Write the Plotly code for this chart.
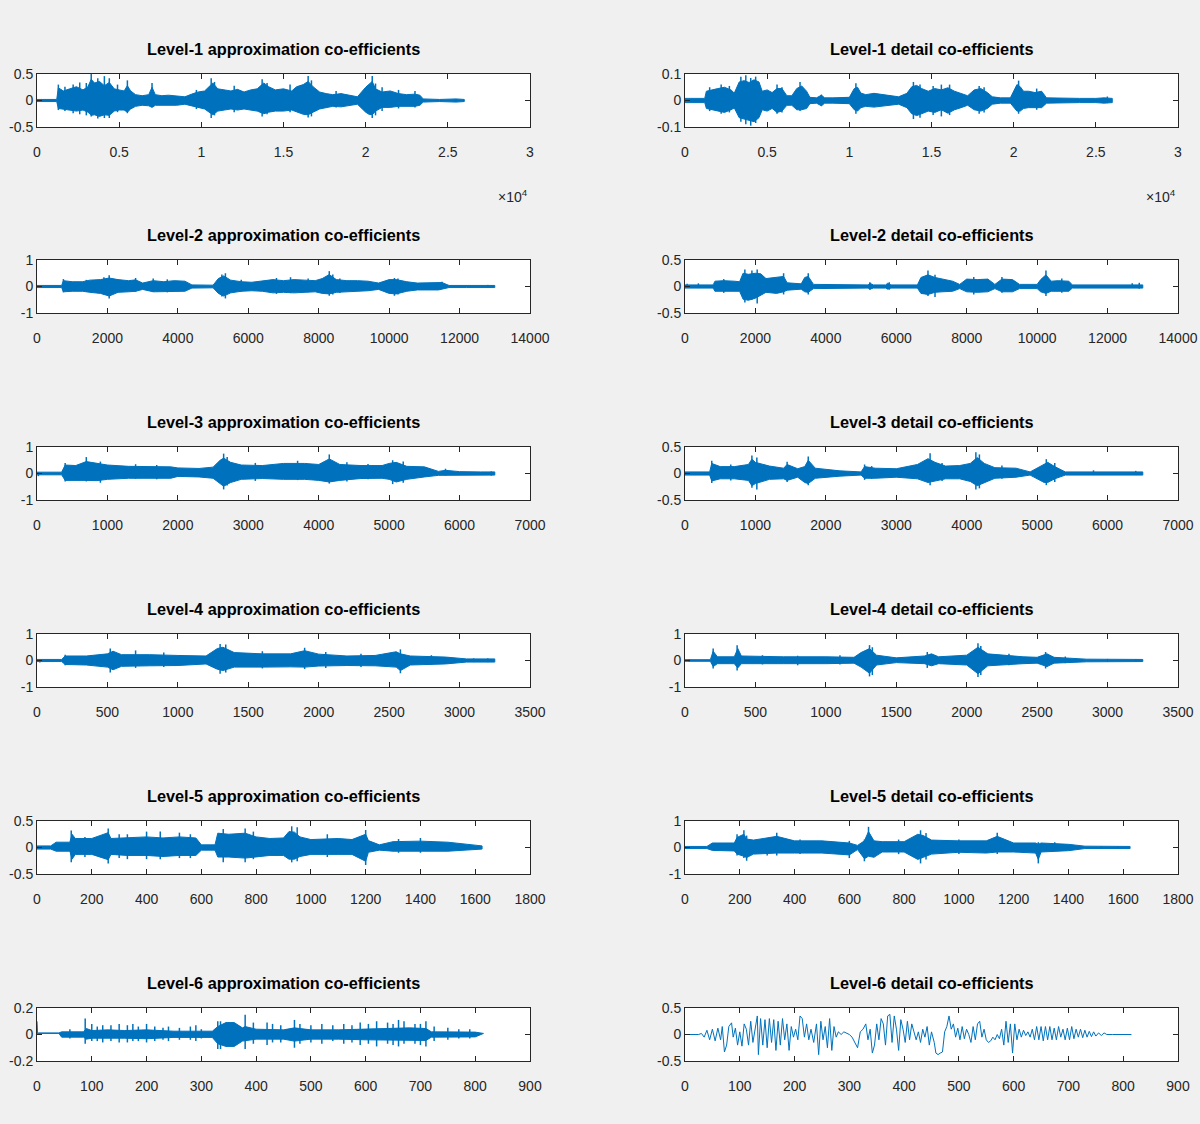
import plotly.graph_objects as go

# ---------------- data (envelopes + peaks) ----------------
titles = [
    "Level-1 approximation co-efficients", "Level-1 detail co-efficients",
    "Level-2 approximation co-efficients", "Level-2 detail co-efficients",
    "Level-3 approximation co-efficients", "Level-3 detail co-efficients",
    "Level-4 approximation co-efficients", "Level-4 detail co-efficients",
    "Level-5 approximation co-efficients", "Level-5 detail co-efficients",
    "Level-6 approximation co-efficients", "Level-6 detail co-efficients",
]

# Level-1 approximation
a1_x = [0, 1200, 1300, 1600, 2000, 2400, 2800, 3100, 3300, 3500, 3800, 4100, 4400, 4700, 5000, 5300, 5500, 5700, 6000, 6400,
        6800, 7000, 7200, 7600, 8000, 8500, 9000, 9500, 9800, 10200, 10500, 10700, 11000, 11400, 11800, 12200, 12600, 13000, 13400, 13800,
        14100, 14500, 15000, 15500, 15800, 16200, 16500, 16800, 17200, 17600, 18000, 18500, 19000, 19500, 20000, 20200, 20400, 20600, 21000, 21500,
        22000, 22500, 23000, 23300, 23500, 24500, 25500, 26000]
a1_hi = [0.02, 0.02, 0.24, 0.18, 0.22, 0.26, 0.2, 0.26, 0.4, 0.33, 0.36, 0.28, 0.34, 0.22, 0.2, 0.18, 0.28, 0.18, 0.11, 0.09,
         0.11, 0.25, 0.11, 0.09, 0.1, 0.09, 0.07, 0.13, 0.16, 0.18, 0.26, 0.33, 0.22, 0.2, 0.18, 0.21, 0.16, 0.2, 0.22, 0.33,
         0.26, 0.2, 0.22, 0.18, 0.26, 0.3, 0.36, 0.26, 0.16, 0.13, 0.11, 0.13, 0.1, 0.07, 0.25, 0.3, 0.36, 0.22, 0.16, 0.18,
         0.13, 0.11, 0.12, 0.1, 0.03, 0.02, 0.03, 0.02]
a1_lo = [-0.02, -0.02, -0.15, -0.16, -0.18, -0.2, -0.18, -0.22, -0.28, -0.27, -0.3, -0.27, -0.28, -0.2, -0.18, -0.18, -0.22, -0.16, -0.11, -0.09,
         -0.1, -0.13, -0.09, -0.09, -0.09, -0.09, -0.07, -0.11, -0.13, -0.16, -0.22, -0.27, -0.2, -0.18, -0.16, -0.18, -0.16, -0.18, -0.2, -0.25,
         -0.22, -0.2, -0.2, -0.18, -0.22, -0.26, -0.27, -0.22, -0.16, -0.13, -0.11, -0.12, -0.09, -0.07, -0.22, -0.26, -0.27, -0.2, -0.13, -0.13,
         -0.11, -0.11, -0.11, -0.09, -0.03, -0.02, -0.03, -0.02]
a1_px = [1300, 1700, 2200, 2600, 3000, 3300, 3700, 4100, 4400, 4900, 5500, 7000, 9700, 10600, 10800, 12000, 13700, 14000, 15400, 16500, 16700, 18200, 20400, 20600, 21000, 22000, 23000]
a1_ph = [0.3, 0.26, 0.3, 0.34, 0.33, 0.5, 0.42, 0.46, 0.42, 0.3, 0.38, 0.33, 0.2, 0.42, 0.35, 0.28, 0.4, 0.33, 0.3, 0.46, 0.38, 0.18, 0.46, 0.32, 0.25, 0.2, 0.18]
a1_pl = [-0.18, -0.2, -0.24, -0.26, -0.28, -0.3, -0.34, -0.33, -0.33, -0.22, -0.24, -0.12, -0.16, -0.33, -0.28, -0.22, -0.3, -0.26, -0.22, -0.32, -0.3, -0.13, -0.33, -0.28, -0.2, -0.15, -0.13]

# Level-1 detail
d1_x = [0, 1200, 1300, 1600, 2000, 2400, 2800, 3000, 3300, 3600, 3900, 4200, 4500, 4700, 5000, 5300, 5600, 5900, 6200, 6500,
        6800, 7100, 7400, 7600, 8000, 8300, 8500, 9000, 9500, 10000, 10300, 10500, 10700, 11000, 11500, 12000, 12500, 13000, 13500, 13800,
        14100, 14400, 14800, 15200, 15600, 16000, 16400, 16800, 17200, 17600, 18000, 18400, 18700, 19200, 19800, 20200, 20400, 20600, 20900, 21300,
        21700, 22000, 23000, 24000, 25000, 25500, 26000]
d1_hi = [0.008, 0.008, 0.035, 0.04, 0.045, 0.05, 0.04, 0.028, 0.07, 0.075, 0.068, 0.078, 0.07, 0.035, 0.04, 0.03, 0.045, 0.045, 0.018, 0.018,
         0.045, 0.055, 0.035, 0.012, 0.01, 0.02, 0.01, 0.01, 0.01, 0.012, 0.045, 0.05, 0.028, 0.022, 0.027, 0.022, 0.018, 0.014, 0.027, 0.052,
         0.057, 0.045, 0.035, 0.045, 0.04, 0.048, 0.035, 0.027, 0.018, 0.04, 0.045, 0.03, 0.014, 0.01, 0.01, 0.06, 0.052, 0.035, 0.035, 0.03,
         0.035, 0.01, 0.008, 0.008, 0.008, 0.01, 0.008]
d1_lo = [-0.008, -0.008, -0.03, -0.035, -0.04, -0.045, -0.035, -0.028, -0.065, -0.07, -0.075, -0.08, -0.065, -0.035, -0.04, -0.03, -0.045, -0.04, -0.018, -0.018,
         -0.035, -0.035, -0.03, -0.012, -0.01, -0.02, -0.01, -0.01, -0.01, -0.012, -0.035, -0.04, -0.027, -0.022, -0.025, -0.022, -0.018, -0.014, -0.027, -0.05,
         -0.057, -0.05, -0.04, -0.045, -0.035, -0.048, -0.035, -0.027, -0.018, -0.035, -0.04, -0.03, -0.014, -0.01, -0.01, -0.04, -0.04, -0.03, -0.027, -0.027,
         -0.027, -0.01, -0.008, -0.008, -0.008, -0.01, -0.008]
d1_px = [1500, 2200, 2700, 3400, 3700, 4000, 4300, 5600, 5900, 7000, 8300, 10400, 13900, 14300, 15100, 15600, 16100, 17900, 18200, 20300, 21400, 25700]
d1_ph = [0.05, 0.06, 0.055, 0.09, 0.095, 0.085, 0.09, 0.06, 0.05, 0.07, 0.022, 0.065, 0.07, 0.06, 0.055, 0.06, 0.06, 0.055, 0.05, 0.075, 0.045, 0.015]
d1_pl = [-0.04, -0.05, -0.045, -0.08, -0.09, -0.095, -0.085, -0.05, -0.045, -0.04, -0.02, -0.05, -0.07, -0.065, -0.055, -0.06, -0.055, -0.05, -0.045, -0.05, -0.035, -0.01]

# Level-2 approximation
a2_x = [0, 700, 750, 1000, 1300, 1500, 1800, 2050, 2300, 2600, 2800, 3000, 3300, 3600, 3900, 4200, 4400, 4700, 5000, 5150,
        5300, 5500, 5800, 6100, 6400, 6700, 7000, 7300, 7600, 7900, 8100, 8300, 8500, 8800, 9100, 9400, 9700, 10000, 10200, 10500,
        10800, 11100, 11400, 11500, 11700, 12200, 12700, 13000]
a2_hi = [0.04, 0.04, 0.22, 0.18, 0.18, 0.24, 0.26, 0.32, 0.26, 0.22, 0.25, 0.13, 0.22, 0.18, 0.22, 0.2, 0.06, 0.05, 0.05, 0.3,
         0.4, 0.24, 0.18, 0.16, 0.2, 0.26, 0.22, 0.26, 0.24, 0.22, 0.3, 0.45, 0.26, 0.22, 0.22, 0.2, 0.13, 0.26, 0.26, 0.18,
         0.13, 0.13, 0.13, 0.15, 0.04, 0.04, 0.03, 0.04]
a2_lo = [-0.04, -0.04, -0.2, -0.18, -0.18, -0.22, -0.26, -0.36, -0.22, -0.2, -0.18, -0.11, -0.2, -0.2, -0.18, -0.18, -0.06, -0.05, -0.05, -0.26,
         -0.36, -0.24, -0.18, -0.16, -0.18, -0.24, -0.22, -0.24, -0.22, -0.2, -0.26, -0.28, -0.22, -0.18, -0.18, -0.16, -0.11, -0.26, -0.28, -0.18,
         -0.13, -0.13, -0.13, -0.09, -0.04, -0.04, -0.03, -0.04]
a2_px = [750, 1400, 1900, 2050, 2800, 3300, 3700, 5250, 5350, 5800, 6800, 7200, 7700, 8300, 8400, 8600, 10150, 10250, 11500, 12800]
a2_ph = [0.28, 0.25, 0.35, 0.42, 0.32, 0.3, 0.27, 0.45, 0.5, 0.25, 0.32, 0.35, 0.3, 0.58, 0.45, 0.3, 0.32, 0.3, 0.18, 0.06]
a2_pl = [-0.22, -0.2, -0.3, -0.45, -0.2, -0.2, -0.22, -0.38, -0.45, -0.2, -0.28, -0.25, -0.22, -0.35, -0.3, -0.25, -0.35, -0.3, -0.05, -0.04]

# Level-2 detail
d2_x = [0, 800, 850, 1100, 1400, 1550, 1650, 1800, 2000, 2150, 2300, 2600, 2800, 2900, 3300, 3400, 3500, 3650, 4500, 5200,
        5250, 5350, 5700, 5750, 5850, 6600, 6700, 6900, 7100, 7300, 7600, 7800, 8000, 8300, 8600, 8800, 9000, 9300, 9500, 10000,
        10100, 10250, 10400, 10600, 10900, 11000, 12000, 13000]
d2_hi = [0.03, 0.03, 0.1, 0.11, 0.1, 0.09, 0.25, 0.23, 0.25, 0.24, 0.15, 0.17, 0.19, 0.07, 0.05, 0.17, 0.19, 0.04, 0.03, 0.03,
         0.06, 0.03, 0.03, 0.06, 0.03, 0.03, 0.17, 0.22, 0.17, 0.14, 0.1, 0.04, 0.14, 0.13, 0.14, 0.04, 0.14, 0.13, 0.04, 0.04,
         0.13, 0.22, 0.1, 0.11, 0.1, 0.03, 0.03, 0.03]
d2_lo = [-0.03, -0.03, -0.09, -0.1, -0.09, -0.09, -0.24, -0.26, -0.22, -0.17, -0.11, -0.13, -0.1, -0.07, -0.05, -0.1, -0.11, -0.04, -0.03, -0.03,
         -0.05, -0.03, -0.03, -0.05, -0.03, -0.03, -0.13, -0.15, -0.11, -0.1, -0.09, -0.04, -0.1, -0.11, -0.1, -0.04, -0.1, -0.1, -0.04, -0.04,
         -0.1, -0.13, -0.09, -0.09, -0.09, -0.03, -0.03, -0.03]
d2_px = [60, 380, 1100, 1700, 1900, 2050, 2800, 3500, 5250, 5800, 6900, 7100, 8200, 9000, 9400, 10250, 10700, 12700, 12900]
d2_ph = [0.05, 0.06, 0.14, 0.32, 0.3, 0.32, 0.25, 0.25, 0.08, 0.08, 0.3, 0.22, 0.18, 0.18, 0.08, 0.3, 0.15, 0.06, 0.07]
d2_pl = [-0.02, -0.03, -0.12, -0.3, -0.25, -0.32, -0.15, -0.15, -0.06, -0.06, -0.18, -0.2, -0.15, -0.12, -0.05, -0.18, -0.12, -0.03, -0.04]

# Level-3 approximation
a3_x = [0, 350, 400, 550, 700, 850, 1000, 1300, 1600, 1900, 2000, 2300, 2500, 2600, 2650, 2750, 2900, 3200, 3500, 3800,
        4000, 4150, 4300, 4600, 4900, 5000, 5100, 5250, 5500, 5700, 5800, 6000, 6300, 6500]
a3_hi = [0.05, 0.05, 0.32, 0.3, 0.45, 0.38, 0.32, 0.27, 0.25, 0.25, 0.21, 0.19, 0.24, 0.5, 0.58, 0.42, 0.32, 0.3, 0.38, 0.38,
         0.34, 0.55, 0.34, 0.3, 0.3, 0.38, 0.42, 0.27, 0.25, 0.08, 0.12, 0.07, 0.06, 0.06]
a3_lo = [-0.05, -0.05, -0.26, -0.26, -0.26, -0.27, -0.22, -0.18, -0.18, -0.18, -0.11, -0.13, -0.18, -0.38, -0.48, -0.34, -0.22, -0.19, -0.22, -0.22,
         -0.26, -0.32, -0.26, -0.19, -0.18, -0.22, -0.32, -0.22, -0.13, -0.07, -0.07, -0.06, -0.06, -0.06]
a3_px = [20, 400, 700, 900, 1400, 1700, 2650, 2700, 3100, 3700, 4150, 4400, 4700, 5050, 5200, 5800, 6450]
a3_ph = [0.05, 0.4, 0.62, 0.45, 0.35, 0.32, 0.75, 0.62, 0.4, 0.48, 0.72, 0.42, 0.36, 0.5, 0.45, 0.18, 0.08]
a3_pl = [-0.1, -0.3, -0.3, -0.35, -0.2, -0.22, -0.6, -0.45, -0.28, -0.25, -0.38, -0.3, -0.22, -0.4, -0.35, -0.08, -0.08]

# Level-3 detail
d3_x = [0, 350, 380, 500, 700, 900, 950, 1000, 1200, 1400, 1450, 1600, 1700, 1750, 1850, 2200, 2500, 2550, 2700, 3000,
        3300, 3450, 3550, 3700, 3900, 4050, 4150, 4250, 4400, 4700, 4900, 5100, 5150, 5250, 5400, 6500]
d3_hi = [0.03, 0.03, 0.19, 0.13, 0.13, 0.17, 0.27, 0.21, 0.14, 0.1, 0.17, 0.09, 0.13, 0.25, 0.1, 0.05, 0.03, 0.13, 0.1, 0.09,
         0.17, 0.28, 0.21, 0.14, 0.15, 0.19, 0.3, 0.19, 0.11, 0.1, 0.03, 0.18, 0.21, 0.13, 0.03, 0.03]
d3_lo = [-0.03, -0.03, -0.14, -0.1, -0.1, -0.13, -0.23, -0.19, -0.11, -0.1, -0.13, -0.07, -0.17, -0.19, -0.09, -0.05, -0.03, -0.09, -0.09, -0.07,
         -0.1, -0.17, -0.15, -0.1, -0.1, -0.15, -0.23, -0.17, -0.09, -0.07, -0.03, -0.17, -0.17, -0.1, -0.03, -0.03]
d3_px = [380, 650, 950, 1020, 1450, 1750, 2550, 2650, 3480, 3650, 4130, 4180, 4500, 5130, 5250, 5800, 6400]
d3_ph = [0.24, 0.17, 0.34, 0.3, 0.22, 0.32, 0.17, 0.14, 0.38, 0.2, 0.4, 0.36, 0.15, 0.27, 0.2, 0.06, 0.05]
d3_pl = [-0.18, -0.13, -0.27, -0.3, -0.16, -0.22, -0.12, -0.1, -0.22, -0.14, -0.3, -0.28, -0.1, -0.22, -0.16, -0.03, -0.03]

# Level-4 approximation
a4_x = [0, 175, 200, 350, 500, 540, 600, 800, 1000, 1200, 1280, 1320, 1400, 1600, 1800, 1900, 2000, 2200, 2400, 2550,
        2580, 2650, 2900, 3050, 3250]
a4_hi = [0.04, 0.04, 0.17, 0.17, 0.25, 0.35, 0.22, 0.22, 0.19, 0.17, 0.45, 0.5, 0.3, 0.25, 0.25, 0.37, 0.24, 0.17, 0.19, 0.33,
         0.25, 0.17, 0.13, 0.06, 0.06]
a4_lo = [-0.04, -0.04, -0.15, -0.17, -0.25, -0.35, -0.22, -0.2, -0.19, -0.13, -0.33, -0.38, -0.25, -0.25, -0.24, -0.25, -0.21, -0.19, -0.2, -0.25,
         -0.38, -0.17, -0.13, -0.06, -0.06]
a4_px = [20, 200, 520, 700, 900, 1300, 1340, 1600, 1900, 2050, 2300, 2580, 2800, 3100, 3200]
a4_ph = [0.05, 0.22, 0.45, 0.38, 0.3, 0.62, 0.6, 0.35, 0.48, 0.32, 0.25, 0.42, 0.2, 0.08, 0.08]
a4_pl = [-0.08, -0.18, -0.45, -0.28, -0.25, -0.5, -0.45, -0.3, -0.32, -0.28, -0.25, -0.48, -0.15, -0.06, -0.06]

# Level-4 detail
d4_x = [0, 180, 200, 230, 350, 375, 400, 700, 1000, 1200, 1250, 1310, 1360, 1500, 1700, 1750, 1800, 2000, 2080, 2150,
        2400, 2500, 2570, 2620, 2850, 3250]
d4_hi = [0.03, 0.03, 0.35, 0.14, 0.14, 0.45, 0.17, 0.14, 0.14, 0.12, 0.3, 0.45, 0.2, 0.1, 0.17, 0.25, 0.14, 0.2, 0.5, 0.25,
         0.14, 0.12, 0.25, 0.12, 0.05, 0.04]
d4_lo = [-0.03, -0.03, -0.23, -0.12, -0.12, -0.28, -0.12, -0.12, -0.12, -0.1, -0.25, -0.48, -0.17, -0.08, -0.12, -0.2, -0.12, -0.17, -0.5, -0.2,
         -0.12, -0.1, -0.23, -0.1, -0.05, -0.04]
d4_px = [30, 200, 370, 550, 800, 1100, 1310, 1330, 1720, 2080, 2100, 2300, 2560, 2700, 3000, 3200]
d4_ph = [0.05, 0.45, 0.58, 0.2, 0.18, 0.2, 0.58, 0.5, 0.32, 0.65, 0.55, 0.25, 0.32, 0.15, 0.06, 0.05]
d4_pl = [-0.05, -0.3, -0.38, -0.15, -0.18, -0.15, -0.6, -0.55, -0.28, -0.62, -0.55, -0.18, -0.3, -0.1, -0.05, -0.05]

# Level-5 approximation
a5_x = [0, 50, 70, 120, 128, 140, 200, 260, 270, 330, 400, 460, 520, 580, 600, 650, 660, 700, 760, 800,
        850, 900, 920, 940, 960, 1000, 1100, 1150, 1200, 1210, 1250, 1300, 1400, 1500, 1625]
a5_hi = [0.03, 0.03, 0.1, 0.1, 0.25, 0.17, 0.17, 0.28, 0.17, 0.18, 0.2, 0.18, 0.2, 0.18, 0.05, 0.05, 0.27, 0.25, 0.27, 0.2,
         0.17, 0.18, 0.3, 0.29, 0.2, 0.15, 0.17, 0.15, 0.25, 0.13, 0.05, 0.11, 0.12, 0.1, 0.03]
a5_lo = [-0.03, -0.03, -0.07, -0.07, -0.22, -0.13, -0.13, -0.23, -0.13, -0.15, -0.15, -0.17, -0.15, -0.15, -0.05, -0.05, -0.18, -0.18, -0.2, -0.17,
         -0.15, -0.15, -0.22, -0.22, -0.17, -0.13, -0.13, -0.13, -0.26, -0.09, -0.05, -0.07, -0.07, -0.07, -0.03]
a5_px = [125, 175, 260, 300, 330, 400, 450, 520, 560, 680, 760, 790, 930, 950, 1060, 1200, 1320, 1400, 1520, 1580]
a5_ph = [0.32, 0.2, 0.36, 0.25, 0.25, 0.3, 0.3, 0.28, 0.25, 0.35, 0.36, 0.3, 0.4, 0.38, 0.25, 0.33, 0.16, 0.18, 0.05, 0.05]
a5_pl = [-0.28, -0.18, -0.3, -0.2, -0.22, -0.22, -0.22, -0.2, -0.2, -0.28, -0.28, -0.22, -0.28, -0.26, -0.18, -0.33, -0.1, -0.1, -0.03, -0.04]

# Level-5 detail
d5_x = [0, 80, 100, 180, 190, 215, 225, 250, 335, 400, 500, 600, 630, 655, 670, 690, 720, 800, 850, 870,
        900, 1000, 1100, 1140, 1200, 1280, 1290, 1300, 1400, 1460, 1625]
d5_hi = [0.04, 0.04, 0.17, 0.17, 0.38, 0.5, 0.32, 0.28, 0.42, 0.25, 0.25, 0.17, 0.08, 0.25, 0.6, 0.25, 0.22, 0.22, 0.5, 0.45,
         0.28, 0.25, 0.25, 0.42, 0.17, 0.17, 0.12, 0.17, 0.12, 0.05, 0.04]
d5_lo = [-0.04, -0.04, -0.11, -0.13, -0.25, -0.33, -0.38, -0.25, -0.21, -0.21, -0.21, -0.28, -0.08, -0.42, -0.33, -0.37, -0.17, -0.17, -0.45, -0.37,
         -0.25, -0.18, -0.21, -0.17, -0.17, -0.21, -0.45, -0.17, -0.12, -0.04, -0.04]
d5_px = [190, 215, 225, 300, 335, 420, 600, 655, 670, 780, 860, 880, 1000, 1140, 1290, 1350, 1520, 1580]
d5_ph = [0.5, 0.65, 0.45, 0.35, 0.56, 0.3, 0.25, 0.3, 0.78, 0.3, 0.65, 0.55, 0.3, 0.56, 0.2, 0.2, 0.05, 0.05]
d5_pl = [-0.3, -0.4, -0.5, -0.3, -0.3, -0.25, -0.4, -0.52, -0.3, -0.25, -0.6, -0.45, -0.25, -0.25, -0.6, -0.12, -0.04, -0.04]

# Level-6 approximation
a6_x = [0, 1, 3, 40, 45, 85, 90, 100, 130, 160, 200, 250, 320, 330, 345, 360, 375, 380, 400, 450,
        470, 500, 550, 600, 650, 680, 710, 720, 800, 815]
a6_hi = [0.1, 0.012, 0.012, 0.012, 0.02, 0.02, 0.045, 0.03, 0.035, 0.03, 0.035, 0.025, 0.025, 0.06, 0.09, 0.09, 0.05, 0.06, 0.04, 0.035,
         0.05, 0.035, 0.035, 0.04, 0.05, 0.05, 0.045, 0.02, 0.018, 0.012]
a6_lo = [0.0, 0.008, 0.008, 0.008, -0.02, -0.02, -0.035, -0.028, -0.03, -0.028, -0.032, -0.022, -0.022, -0.07, -0.09, -0.09, -0.05, -0.045, -0.035, -0.035,
         -0.05, -0.035, -0.035, -0.04, -0.045, -0.045, -0.045, -0.02, -0.018, 0.008]
a6_px = [60, 88, 100, 110, 120, 135, 150, 165, 175, 185, 200, 215, 230, 240, 260, 280, 290, 300, 330, 335,
         380, 395, 420, 430, 445, 470, 480, 500, 520, 540, 560, 575, 590, 605, 620, 640, 650, 660, 670, 690,
         700, 710, 725, 750, 770, 790]
a6_ph = [0.04, 0.12, 0.08, 0.06, 0.07, 0.07, 0.08, 0.07, 0.08, 0.06, 0.08, 0.06, 0.05, 0.06, 0.05, 0.06, 0.07, 0.04, 0.1, 0.1,
         0.15, 0.09, 0.09, 0.08, 0.07, 0.11, 0.08, 0.07, 0.08, 0.07, 0.08, 0.07, 0.09, 0.08, 0.1, 0.09, 0.08, 0.11, 0.1, 0.08,
         0.08, 0.1, 0.06, 0.05, 0.04, 0.04]
a6_pl = [-0.03, -0.07, -0.05, -0.05, -0.06, -0.05, -0.06, -0.06, -0.05, -0.05, -0.06, -0.05, -0.04, -0.05, -0.04, -0.04, -0.05, -0.03, -0.11, -0.11,
         -0.11, -0.07, -0.08, -0.06, -0.06, -0.1, -0.07, -0.06, -0.07, -0.05, -0.07, -0.06, -0.08, -0.07, -0.09, -0.07, -0.08, -0.09, -0.07, -0.07,
         -0.08, -0.09, -0.05, -0.04, -0.03, -0.03]

# Level-6 detail (individual oscillations visible)
d6_x = [0, 10, 20, 25, 30, 35, 40, 45, 50, 55, 60, 65, 68, 72, 76, 80, 85, 88, 92, 96,
        100, 104, 108, 112, 116, 120, 124, 128, 132, 134, 138, 142, 146, 150, 154, 158, 162, 166, 170, 174,
        178, 182, 186, 190, 194, 198, 202, 206, 210, 214, 218, 222, 226, 230, 235, 240, 244, 248, 252, 256,
        260, 264, 268, 272, 276, 280, 285, 290, 295, 300, 305, 310, 315, 320, 325, 330, 334, 338, 342, 346,
        350, 354, 358, 362, 366, 370, 374, 378, 382, 386, 390, 394, 398, 402, 406, 410, 414, 418, 422, 426,
        430, 434, 438, 442, 446, 450, 455, 458, 462, 466, 470, 474, 478, 482, 486, 490, 494, 498, 502, 506,
        510, 514, 518, 522, 526, 530, 534, 538, 542, 546, 550, 554, 558, 562, 566, 570, 574, 578, 582, 586,
        590, 594, 598, 602, 606, 610, 614, 618, 622, 626, 630, 634, 638, 642, 646, 650, 654, 658, 662, 666,
        670, 674, 678, 682, 686, 690, 694, 698, 702, 706, 710, 714, 718, 722, 726, 730, 734, 738, 742, 746,
        750, 755, 760, 765, 770, 780, 800, 815]
d6_y = [0, 0, 0, 0, 0.02, -0.05, 0.08, -0.1, 0.1, -0.12, 0.12, -0.1, 0.15, -0.33, -0.2, 0.15, 0.22, -0.05, 0.12, -0.2,
        0.05, -0.22, 0.2, 0.1, -0.2, 0.25, -0.15, 0.1, 0.35, -0.38, 0.3, -0.2, 0.28, -0.25, 0.3, -0.15, 0.28, -0.3, 0.25, -0.2,
        0.3, -0.1, 0.2, -0.3, 0.15, -0.05, 0.1, -0.1, 0.35, 0.3, -0.05, 0.2, -0.1, 0.1, -0.15, 0.2, -0.38, 0.25, -0.1, 0.15,
        -0.25, 0.3, -0.3, 0.15, -0.05, 0.05, 0.0, 0.05, 0.03, 0.0, -0.05, -0.15, -0.25, 0.05, 0.1, 0.2, -0.1, 0.1, -0.35, -0.2,
        0.2, -0.1, 0.3, 0.2, -0.2, 0.35, 0.38, -0.15, 0.35, 0.1, -0.3, 0.28, 0.1, -0.15, 0.25, -0.1, 0.2, 0.05, -0.1, 0.05,
        -0.15, 0.1, -0.05, 0.15, -0.2, 0.05, -0.15, -0.35, -0.38, -0.35, -0.33, 0.05, 0.15, 0.35, 0.1, 0.2, -0.05, 0.12, -0.1, 0.15,
        -0.08, 0.1, 0.0, -0.15, 0.15, -0.1, 0.2, 0.25, -0.05, 0.1, -0.1, -0.15, -0.12, -0.05, -0.1, 0.0, -0.08, 0.1, -0.2, 0.25,
        -0.15, 0.2, -0.35, 0.2, -0.1, 0.1, -0.05, 0.08, -0.02, 0.05, -0.05, 0.1, -0.1, 0.15, -0.1, 0.15, -0.12, 0.15, -0.1, 0.15,
        -0.1, 0.12, -0.1, 0.15, -0.05, 0.1, -0.1, 0.12, -0.1, 0.15, -0.08, 0.1, -0.05, 0.1, -0.06, 0.08, -0.05, 0.06, -0.04, 0.05,
        -0.03, 0.03, -0.02, 0.03, 0.0, 0.0, 0.0, 0.0]

# axis ranges and tick values per panel (row-major: approx, detail)
x_max = [30000, 30000, 14000, 14000, 7000, 7000, 3500, 3500, 1800, 1800, 900, 900]
x_step = [5000, 5000, 2000, 2000, 1000, 1000, 500, 500, 200, 200, 100, 100]
y_lim = [0.5, 0.1, 1, 0.5, 1, 0.5, 1, 1, 0.5, 1, 0.2, 0.5]
row1_ticktext = ["0", "0.5", "1", "1.5", "2", "2.5", "3"]

envelopes = [
    (a1_x, a1_hi, a1_lo, a1_px, a1_ph, a1_pl), (d1_x, d1_hi, d1_lo, d1_px, d1_ph, d1_pl),
    (a2_x, a2_hi, a2_lo, a2_px, a2_ph, a2_pl), (d2_x, d2_hi, d2_lo, d2_px, d2_ph, d2_pl),
    (a3_x, a3_hi, a3_lo, a3_px, a3_ph, a3_pl), (d3_x, d3_hi, d3_lo, d3_px, d3_ph, d3_pl),
    (a4_x, a4_hi, a4_lo, a4_px, a4_ph, a4_pl), (d4_x, d4_hi, d4_lo, d4_px, d4_ph, d4_pl),
    (a5_x, a5_hi, a5_lo, a5_px, a5_ph, a5_pl), (d5_x, d5_hi, d5_lo, d5_px, d5_ph, d5_pl),
    (a6_x, a6_hi, a6_lo, a6_px, a6_ph, a6_pl), None,
]

# ---------------- layout geometry (pixels) ----------------
W, H = 1200, 1124
BLUE = "#0072BD"
AX = "#262626"
FONT = "Liberation Sans, Arial, sans-serif"
col_px = [(37, 530), (685, 1178)]
row_top = [74, 260, 447, 634, 821, 1008]
row_h = 53
TICK_SIZE = 14
TITLE_SIZE = 16.3

fig = go.Figure()
layout = dict(
    template="none",
    width=W, height=H, autosize=False,
    margin=dict(l=0, r=0, t=0, b=0, pad=0, autoexpand=False),
    paper_bgcolor="#f0f0f0", plot_bgcolor="white", showlegend=False,
    font=dict(family=FONT, size=TICK_SIZE, color=AX),
)
annotations = []

for i in range(12):
    r, c = divmod(i, 2)
    n = i + 1
    xa = "xaxis" if n == 1 else "xaxis%d" % n
    ya = "yaxis" if n == 1 else "yaxis%d" % n
    xref = "x" if n == 1 else "x%d" % n
    yref = "y" if n == 1 else "y%d" % n
    x0p, x1p = col_px[c]
    top = row_top[r]
    bot = top + row_h

    tickvals = list(range(0, x_max[i] + 1, x_step[i]))
    layout[xa] = dict(
        domain=[x0p / W, x1p / W], anchor=yref, range=[0, x_max[i]],
        tickvals=tickvals,
        ticktext=row1_ticktext if r == 0 else [str(v) for v in tickvals],
        showline=True, mirror="ticks", linecolor=AX, linewidth=1,
        ticks="inside", ticklen=5, tickcolor=AX, tickwidth=1,
        showgrid=False, zeroline=False, fixedrange=True, automargin=False,
        ticklabelstandoff=12,
        tickfont=dict(family=FONT, size=TICK_SIZE, color=AX),
    )
    yl = y_lim[i]
    layout[ya] = dict(
        domain=[1 - bot / H, 1 - top / H], anchor=xref, range=[-yl, yl],
        tickvals=[-yl, 0, yl], ticktext=["-%g" % yl, "0", "%g" % yl],
        showline=True, mirror="ticks", linecolor=AX, linewidth=1,
        ticks="inside", ticklen=5, tickcolor=AX, tickwidth=1,
        showgrid=False, zeroline=False, fixedrange=True, automargin=False,
        tickfont=dict(family=FONT, size=TICK_SIZE, color=AX),
    )

    env = envelopes[i]
    if env is not None:
        ex, hi, lo, pkx, pkh, pkl = env
        pts = list(zip(ex, hi, lo))
        px = [p[0] for p in pts] + [p[0] for p in reversed(pts)]
        py = [p[1] for p in pts] + [p[2] for p in reversed(pts)]
        fig.add_trace(go.Scatter(
            x=px, y=py, mode="lines", fill="toself", fillcolor=BLUE,
            line=dict(color=BLUE, width=1), xaxis=xref, yaxis=yref,
            hoverinfo="skip"))
        sx, sy = [], []
        for xv, hv, lv in zip(pkx, pkh, pkl):
            sx += [xv, xv, None]
            sy += [hv, lv, None]
        fig.add_trace(go.Scatter(
            x=sx, y=sy, mode="lines", line=dict(color=BLUE, width=1.5),
            xaxis=xref, yaxis=yref, hoverinfo="skip", connectgaps=False))
    else:
        fig.add_trace(go.Scatter(
            x=d6_x, y=d6_y, mode="lines",
            line=dict(color=BLUE, width=1), xaxis=xref, yaxis=yref,
            hoverinfo="skip"))

    annotations.append(dict(
        text="<b>%s</b>" % titles[i], xref="paper", yref="paper",
        x=(x0p + x1p) / 2 / W, y=1 - (top - 25) / H,
        xanchor="center", yanchor="middle", showarrow=False,
        font=dict(family=FONT, size=TITLE_SIZE, color="black")))

    if r == 0:
        annotations.append(dict(
            text="×10<sup>4</sup>", xref="paper", yref="paper",
            x=x1p / W, y=1 - 196 / H, xanchor="right", yanchor="middle",
            showarrow=False, font=dict(family=FONT, size=TICK_SIZE, color=AX)))

layout["annotations"] = annotations
fig.update_layout(**layout)
fig.write_html(
    "out.html",
    config={"displayModeBar": False, "responsive": False},
    post_script="document.body.style.margin='0';document.body.style.background='#f0f0f0';",
)
